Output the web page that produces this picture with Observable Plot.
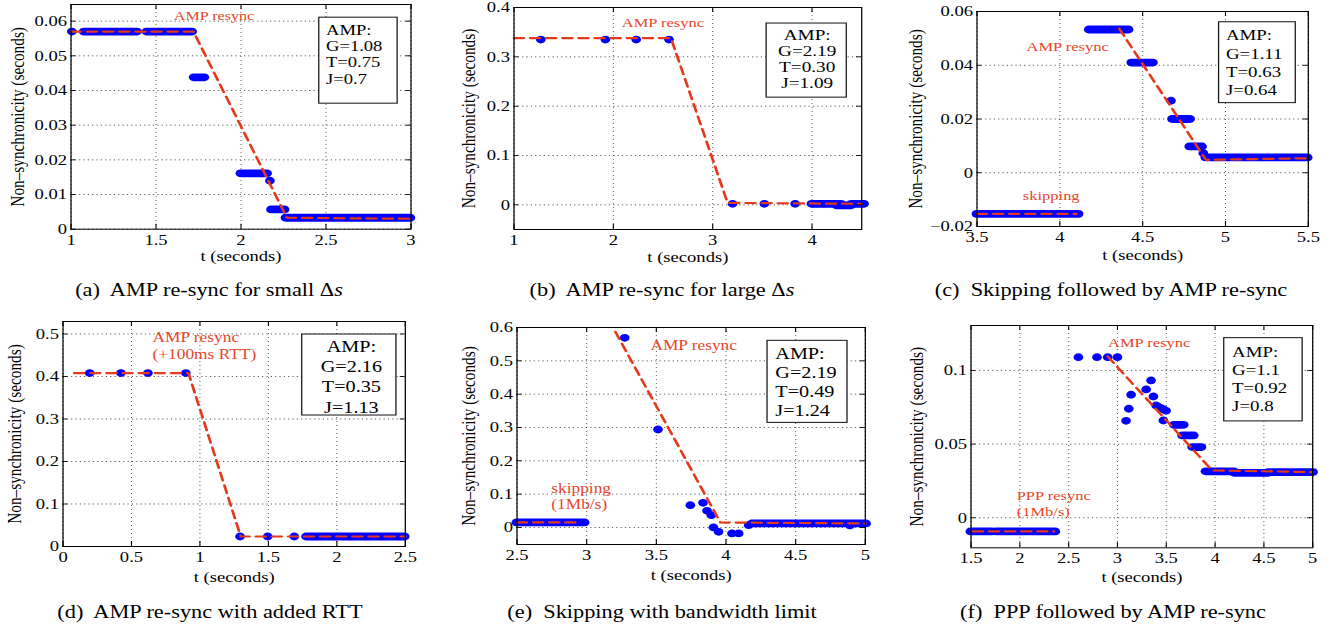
<!DOCTYPE html>
<html><head><meta charset="utf-8">
<script src="https://cdn.jsdelivr.net/npm/d3@7"></script>
<script src="https://cdn.jsdelivr.net/npm/@observablehq/plot@0.6"></script>
<style>
body{margin:0;background:#fff;}
#fig{position:relative;width:1341px;height:628px;overflow:hidden;background:#fff;font-family:"Liberation Serif","Times New Roman",serif;color:#000;}
.cap{position:absolute;white-space:nowrap;font-size:18px;line-height:1;transform:translate(-50%,-50%) scaleX(1.24);}
</style></head><body><div id="fig"></div>
<script>
// ---------------- data ----------------
// (a) AMP re-sync for small Δs
const aXTicks = [1, 1.5, 2, 2.5, 3];
const aXLabels = ["1", "1.5", "2", "2.5", "3"];
const aYTicks = [0, 0.01, 0.02, 0.03, 0.04, 0.05, 0.06];
const aYLabels = ["0", "0.01", "0.02", "0.03", "0.04", "0.05", "0.06"];
const aRuns = [[1.078,1.392,0.057],[1.447,1.716,0.057],[1.725,1.788,0.0438],[2.0,2.157,0.0161],[2.18,2.26,0.0057],[2.265,3.0,0.0033]];
const aDots = [[1.005,0.057],[2.17,0.014]];
const aFit = [[1.0,0.057],[1.72,0.057],[2.27,0.0033],[3.0,0.003]];
const aBox = ["AMP:", "G=1.08", "T=0.75", "J=0.7"];
const aNotes = ["AMP resync"];

// (b) AMP re-sync for large Δs
const bXTicks = [1, 2, 3, 4];
const bXLabels = ["1", "2", "3", "4"];
const bYTicks = [0, 0.1, 0.2, 0.3, 0.4];
const bYLabels = ["0", "0.1", "0.2", "0.3", "0.4"];
const bRuns = [[4.0,4.3,0.002],[4.25,4.4,-0.001],[4.4,4.53,0.002]];
const bDots = [[1.27,0.335],[1.92,0.335],[2.23,0.335],[2.56,0.335],[3.2,0.002],[3.52,0.002],[3.83,0.002]];
const bFit = [[1.0,0.338],[2.58,0.338],[3.15,0.004],[4.5,0.002]];
const bBox = ["AMP:", "G=2.19", "T=0.30", "J=1.09"];
const bNotes = ["AMP resync"];

// (c) Skipping followed by AMP re-sync
const cXTicks = [3.5, 4, 4.5, 5, 5.5];
const cXLabels = ["3.5", "4", "4.5", "5", "5.5"];
const cYTicks = [-0.02, 0, 0.02, 0.04, 0.06];
const cYLabels = ["\u22120.02", "0", "0.02", "0.04", "0.06"];
const cRuns = [[3.5,4.117,-0.0153],[4.178,4.419,0.0533],[4.435,4.566,0.041],[4.681,4.79,0.020],[4.785,4.862,0.0098],[4.882,5.5,0.0057]];
const cDots = [[4.671,0.0268],[4.866,0.0073]];
const cFitSkip = [[3.5,-0.0153],[4.1,-0.0153]];
const cFitAmp = [[4.359,0.0536],[4.882,0.0048],[5.5,0.0054]];
const cBox = ["AMP:", "G=1.11", "T=0.63", "J=0.64"];
const cNotes = ["AMP resync", "skipping"];

// (d) AMP re-sync with added RTT
const dXTicks = [0, 0.5, 1, 1.5, 2, 2.5];
const dXLabels = ["0", "0.5", "1", "1.5", "2", "2.5"];
const dYTicks = [0, 0.1, 0.2, 0.3, 0.4, 0.5];
const dYLabels = ["0", "0.1", "0.2", "0.3", "0.4", "0.5"];
const dRuns = [[1.78,2.5,0.0235]];
const dDots = [[0.195,0.408],[0.423,0.408],[0.62,0.408],[0.897,0.408],[1.293,0.0235],[1.495,0.0235],[1.689,0.0235]];
const dFit = [[0.082,0.408],[0.916,0.408],[1.298,0.0235],[2.5,0.0235]];
const dBox = ["AMP:", "G=2.16", "T=0.35", "J=1.13"];
const dNotes = ["AMP resync\n(+100ms RTT)"];

// (e) Skipping with bandwidth limit
const eXTicks = [2.5, 3, 3.5, 4, 4.5, 5];
const eXLabels = ["2.5", "3", "3.5", "4", "4.5", "5"];
const eYTicks = [0, 0.1, 0.2, 0.3, 0.4, 0.5, 0.6];
const eYLabels = ["0", "0.1", "0.2", "0.3", "0.4", "0.5", "0.6"];
const eRuns = [[2.5,2.99,0.015],[4.19,5.01,0.012]];
const eDots = [[3.273,0.569],[3.512,0.294],[3.744,0.067],[3.835,0.074],[3.864,0.050],[3.895,0.037],[3.91,0.0],[3.947,-0.013],[4.043,-0.018],[4.091,-0.018],[4.163,0.007],[4.89,0.006]];
const eFitSkip = [[2.5,0.015],[2.96,0.015]];
const eFitAmp = [[3.206,0.587],[3.96,0.015],[5.0,0.012]];
const eBox = ["AMP:", "G=2.19", "T=0.49", "J=1.24"];
const eNotes = ["AMP resync", "skipping\n(1Mb/s)"];

// (f) PPP followed by AMP re-sync
const fXTicks = [1.5, 2, 2.5, 3, 3.5, 4, 4.5, 5];
const fXLabels = ["1.5", "2", "2.5", "3", "3.5", "4", "4.5", "5"];
const fYTicks = [0, 0.05, 0.1];
const fYLabels = ["0", "0.05", "0.1"];
const fRuns = [[1.5,1.72,-0.0093],[1.76,2.37,-0.0093],[3.583,3.685,0.0631],[3.669,3.788,0.0559],[3.771,3.867,0.048],[3.908,4.2,0.0315],[4.2,4.55,0.0305],[4.55,5.01,0.031]];
const fDots = [[2.6,0.109],[2.79,0.109],[2.9,0.109],[3.0,0.109],[3.088,0.0658],[3.116,0.074],[3.14,0.0835],[3.294,0.0871],[3.344,0.0932],[3.368,0.0823],[3.396,0.0762],[3.42,0.0752],[3.447,0.0744],[3.475,0.0735],[3.498,0.0726],[3.47,0.066]];
const fFitPpp = [[1.52,-0.0093],[2.35,-0.0093]];
const fFitAmp = [[2.9,0.1095],[3.97,0.0321],[5.0,0.031]];
const fBox = ["AMP:", "G=1.1", "T=0.92", "J=0.8"];
const fNotes = ["AMP resync", "PPP resync\n(1Mb/s)"];

const xAxisLabel = "t (seconds)";
const yAxisLabel = "Non\u2013synchronicity (seconds)";
const captions = [
  "(a)&nbsp; AMP re-sync for small \u0394<i>s</i>",
  "(b)&nbsp; AMP re-sync for large \u0394<i>s</i>",
  "(c)&nbsp; Skipping followed by AMP re-sync",
  "(d)&nbsp; AMP re-sync with added RTT",
  "(e)&nbsp; Skipping with bandwidth limit",
  "(f)&nbsp; PPP followed by AMP re-sync"
];

// ---------------- layout ----------------
const SX = 1.24;              // horizontal stretch of the reference figure
const BLUE = "#0000ff";
const RED = "#e4391b";
const NOTE = "#e5462b";

const panels = [
  {frame:[70,410,4,228.7], xDomain:[1,3], yDomain:[0,0.0648], xTicks:aXTicks, xLabels:aXLabels, yTicks:aYTicks, yLabels:aYLabels,
   runs:aRuns, dots:aDots, fits:[aFit], boxText:aBox,
   box:{x1:2.461,x2:2.922,y1:0.0362,y2:0.0610,tx:2.5,ty:0.0505,anchor:"start",fs:15,lh:1.09},
   notes:[{text:aNotes[0],x:1.841,y:0.0616,anchor:"middle",fs:13,lh:1.1}],
   yOff:53, xOff:27.3, cap:[209,290]},
  {frame:[513.3,861,7.3,229.3], xDomain:[1,4.5], yDomain:[-0.05,0.4], xTicks:bXTicks, xLabels:bXLabels, yTicks:bYTicks, yLabels:bYLabels,
   runs:bRuns, dots:bDots, fits:[bFit], boxText:bBox,
   box:{x1:3.544,x2:4.351,y1:0.2173,y2:0.3675,tx:3.951,ty:0.296,anchor:"middle",fs:15.5,lh:1.04},
   notes:[{text:bNotes[0],x:2.499,y:0.3708,anchor:"middle",fs:13.3,lh:1.1}],
   yOff:45, xOff:27.4, cap:[661.7,290]},
  {frame:[976,1307.3,11,226], xDomain:[3.5,5.5], yDomain:[-0.02,0.06], xTicks:cXTicks, xLabels:cXLabels, yTicks:cYTicks, yLabels:cYLabels,
   runs:cRuns, dots:cDots, fits:[cFitSkip,cFitAmp], boxText:cBox,
   box:{x1:4.962,x2:5.425,y1:0.0259,y2:0.0560,tx:5.003,ty:0.0413,anchor:"start",fs:15.2,lh:1.19},
   notes:[{text:cNotes[0],x:4.047,y:0.04698,anchor:"middle",fs:13.3,lh:1.1},{text:cNotes[1],x:3.948,y:-0.00821,anchor:"middle",fs:13.3,lh:1.1}],
   yOff:61, xOff:29, cap:[1111,290]},
  {frame:[62.7,405,321,546], xDomain:[0,2.5], yDomain:[0,0.5294], xTicks:dXTicks, xLabels:dXLabels, yTicks:dYTicks, yLabels:dYLabels,
   runs:dRuns, dots:dDots, fits:[dFit], boxText:dBox,
   box:{x1:1.748,x2:2.436,y1:0.3082,y2:0.4988,tx:2.106,ty:0.4016,anchor:"middle",fs:16.3,lh:1.24},
   notes:[{text:dNotes[0],x:0.654,y:0.4737,anchor:"start",fs:14,lh:1.24}],
   yOff:47.7, xOff:30.7, cap:[209.5,611.7]},
  {frame:[516.7,865,327.3,544.3], xDomain:[2.5,5], yDomain:[-0.0511,0.6], xTicks:eXTicks, xLabels:eXLabels, yTicks:eYTicks, yLabels:eYLabels,
   runs:eRuns, dots:eDots, fits:[eFitSkip,eFitAmp], boxText:eBox,
   box:{x1:4.299,x2:4.873,y1:0.3138,y2:0.560,tx:4.354,ty:0.4383,anchor:"start",fs:16.3,lh:1.15},
   notes:[{text:eNotes[0],x:3.768,y:0.547,anchor:"middle",fs:14,lh:1.1},{text:eNotes[1],x:2.746,y:0.0954,anchor:"start",fs:14,lh:1.12}],
   yOff:48.4, xOff:30.7, cap:[661.5,611.7]},
  {frame:[970,1311.7,325,547.3], xDomain:[1.5,5], yDomain:[-0.0204,0.1305], xTicks:fXTicks, xLabels:fXLabels, yTicks:fYTicks, yLabels:fYLabels,
   runs:fRuns, dots:fDots, fits:[fFitPpp,fFitAmp], boxText:fBox,
   box:{x1:4.095,x2:4.898,y1:0.0654,y2:0.1219,tx:4.174,ty:0.0947,anchor:"start",fs:15.2,lh:1.19},
   notes:[{text:fNotes[0],x:3.324,y:0.1192,anchor:"middle",fs:13.3,lh:1.1},{text:fNotes[1],x:1.968,y:0.00984,anchor:"start",fs:13.3,lh:1.18}],
   yOff:54.3, xOff:29.4, cap:[1113,611.7]}
];

const fig = document.getElementById("fig");

function makePanel(p) {
  const [L, R, T, B] = p.frame;
  const mL = 60, mR = 30, mT = 12, mB = 46;
  const fw = (R - L) / SX, fh = B - T;
  const W = mL + fw + mR, H = mT + fh + mB;
  const xFmt = d => p.xLabels[p.xTicks.indexOf(d)];
  const yFmt = d => p.yLabels[p.yTicks.indexOf(d)];
  const grid = {stroke: "#000", strokeOpacity: 0.7, strokeWidth: 0.8, strokeDasharray: "1,3"};
  const marks = [
    Plot.gridX(p.xTicks, grid),
    Plot.gridY(p.yTicks, {...grid, strokeDasharray: "1,2.5"}),
    Plot.ruleY(p.runs, {x1: d => d[0], x2: d => d[1], y: d => d[2], stroke: BLUE, strokeWidth: 7.8, strokeLinecap: "round"}),
    Plot.dot(p.dots, {x: d => d[0], y: d => d[1], r: 3.9, fill: BLUE, stroke: "none"}),
    ...p.fits.map(f => Plot.line(f, {x: d => d[0], y: d => d[1], stroke: RED, strokeWidth: 2.2, strokeDasharray: "8,5"})),
    Plot.rect([p.box], {x1: "x1", x2: "x2", y1: "y1", y2: "y2", fill: "white", stroke: "#111", strokeWidth: 1}),
    Plot.text([{x: p.box.tx, y: p.box.ty, t: p.boxText.join("\n")}], {x: "x", y: "y", text: "t", textAnchor: p.box.anchor, lineAnchor: "middle", lineHeight: p.box.lh, fontSize: p.box.fs, fill: "#000"}),
    ...p.notes.map(n => Plot.text([n], {x: "x", y: "y", text: "text", textAnchor: n.anchor, lineAnchor: "middle", lineHeight: n.lh, fontSize: n.fs, fill: NOTE})),
    Plot.ruleX(p.xTicks, {insetTop: fh - 5, stroke: "#000", strokeWidth: 0.9}),
    Plot.ruleX(p.xTicks, {insetBottom: fh - 5, stroke: "#000", strokeWidth: 0.9}),
    Plot.ruleY(p.yTicks, {insetRight: fw - 4, stroke: "#000", strokeWidth: 0.9}),
    Plot.ruleY(p.yTicks, {insetLeft: fw - 4, stroke: "#000", strokeWidth: 0.9}),
    Plot.frame({stroke: "#000", strokeWidth: 1}),
    Plot.axisX(p.xTicks, {anchor: "bottom", tickSize: 0, tickPadding: 5, tickFormat: xFmt, fontSize: 15, label: null}),
    Plot.axisY(p.yTicks, {anchor: "left", tickSize: 0, tickPadding: 4 / SX, tickFormat: yFmt, fontSize: 15, label: null}),
    Plot.text([xAxisLabel], {text: d => d, frameAnchor: "bottom", dy: p.xOff, lineAnchor: "middle", textAnchor: "middle", fontSize: 15, fill: "#000"}),
    Plot.text([yAxisLabel], {text: d => d, frameAnchor: "left", rotate: -90, dx: -p.yOff / SX, lineAnchor: "middle", textAnchor: "middle", fontSize: 15.3, fill: "#000"})
  ];
  const svg = Plot.plot({
    width: W, height: H,
    marginLeft: mL, marginRight: mR, marginTop: mT, marginBottom: mB,
    x: {type: "linear", domain: p.xDomain},
    y: {type: "linear", domain: p.yDomain},
    style: {fontFamily: "'Liberation Serif','Times New Roman',serif", fontSize: "15px", background: "transparent", color: "#000", overflow: "visible"},
    marks
  });
  svg.style.position = "absolute";
  svg.style.left = (L - mL * SX) + "px";
  svg.style.top = (T - mT) + "px";
  svg.style.maxWidth = "none";
  svg.style.width = W + "px";
  svg.style.height = H + "px";
  svg.style.transformOrigin = "0 0";
  svg.style.transform = `scaleX(${SX})`;
  fig.appendChild(svg);
}

panels.forEach((p, i) => {
  makePanel(p);
  const c = document.createElement("div");
  c.className = "cap";
  c.innerHTML = captions[i];
  c.style.left = p.cap[0] + "px";
  c.style.top = p.cap[1] + "px";
  fig.appendChild(c);
});
</script></body></html>
